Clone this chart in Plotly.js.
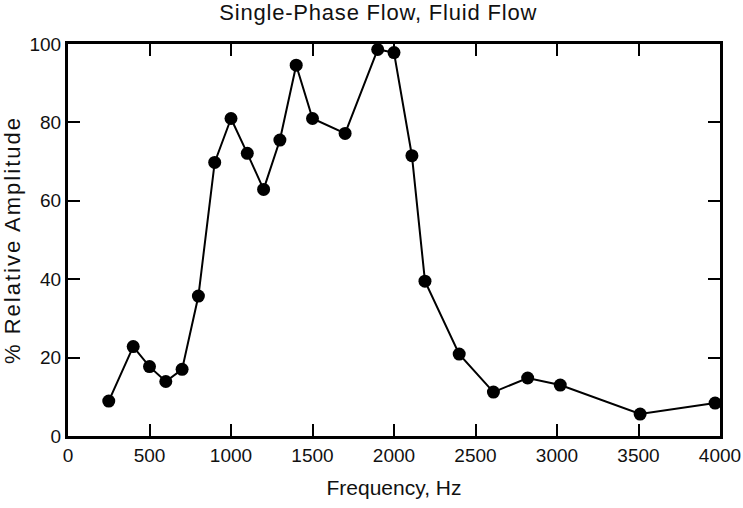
<!DOCTYPE html>
<html>
<head>
<meta charset="utf-8">
<script src="https://cdn.plot.ly/plotly-3.0.1.min.js"></script>
<style>
html,body{margin:0;padding:0;background:#fff;}
#chart{width:743px;height:508px;}
#chart .ytitle{letter-spacing:2px;}
#chart .gtitle{letter-spacing:0.8px;}
</style>
</head>
<body>
<div id="chart"></div>
<script>
const frequencyHz = [250, 400, 500, 600, 700, 800, 900, 1000, 1100, 1200, 1300, 1400, 1500, 1700, 1900, 2000, 2110, 2190, 2400, 2610, 2820, 3020, 3510, 3970];
const relativeAmplitude = [8.9, 22.8, 17.7, 13.9, 17.0, 35.7, 69.8, 81.0, 72.1, 62.9, 75.5, 94.6, 81.0, 77.2, 98.6, 97.8, 71.5, 39.5, 20.9, 11.2, 14.8, 13.0, 5.6, 8.4];
const xTicks = [0, 500, 1000, 1500, 2000, 2500, 3000, 3500, 4000];
const yTicks = [0, 20, 40, 60, 80, 100];

const fam = '"Liberation Sans", Arial, Helvetica, sans-serif';
const ink = '#111';

Plotly.newPlot('chart', [{
  x: frequencyHz,
  y: relativeAmplitude,
  mode: 'lines+markers',
  line: {color: '#000', width: 2},
  marker: {color: '#000', size: 13},
  cliponaxis: false,
  showlegend: false
}], {
  width: 743, height: 508,
  margin: {l: 68, r: 23, t: 44, b: 72},
  paper_bgcolor: '#fff', plot_bgcolor: '#fff',
  font: {family: fam, color: ink, size: 19},
  title: {text: 'Single-Phase Flow, Fluid Flow', x: 0.509, xanchor: 'center', y: 0.975, yanchor: 'middle', font: {family: fam, size: 22, color: ink}},
  xaxis: {
    range: [0, 4000], tickvals: xTicks, ticktext: xTicks.map(String),
    ticks: 'inside', ticklen: 12, tickwidth: 2, tickcolor: '#000',
    showline: true, linewidth: 3, linecolor: '#000', mirror: 'ticks',
    showgrid: false, zeroline: false,
    tickfont: {family: fam, size: 19, color: ink},
    title: {text: 'Frequency, Hz', standoff: 16, font: {family: fam, size: 21, color: ink}}
  },
  yaxis: {
    range: [0, 100], tickvals: yTicks, ticktext: yTicks.map(String),
    ticks: 'inside', ticklen: 12, tickwidth: 2, tickcolor: '#000',
    showline: true, linewidth: 3, linecolor: '#000', mirror: 'ticks',
    showgrid: false, zeroline: false,
    tickfont: {family: fam, size: 19, color: ink},
    title: {text: '% Relative Amplitude', standoff: 10, font: {family: fam, size: 22, color: ink}}
  }
}, {staticPlot: true});
</script>
</body>
</html>
